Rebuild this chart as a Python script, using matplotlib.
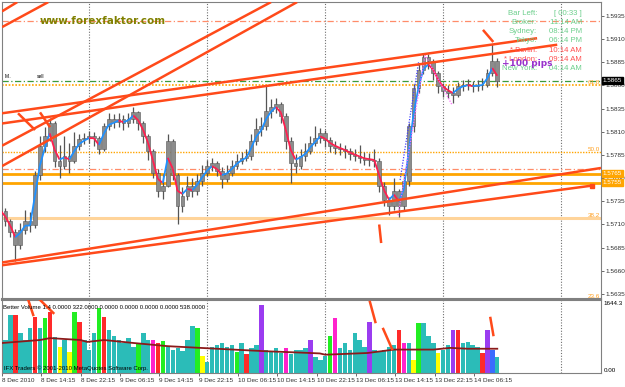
import numpy as np
import matplotlib
matplotlib.use('Agg')
import matplotlib.pyplot as plt
import matplotlib.transforms as mtransforms
from matplotlib.collections import LineCollection

plt.rcParams['font.family'] = ['Liberation Sans', 'DejaVu Sans']

# hourly bars, x = trading hours since 8 Dec 2010 00:00 (weekend skipped)
hours = np.arange(6, 108)
close = [1.5725, 1.5714, 1.5702, 1.5688, 1.5704, 1.5714, 1.5709, 1.5763, 1.5795, 1.5805,
         1.5819, 1.5779, 1.5773, 1.5784, 1.5779, 1.5795, 1.5802, 1.5803, 1.5805, 1.5803,
         1.5791, 1.5816, 1.5824, 1.5821, 1.5824, 1.5819, 1.5824, 1.5831, 1.5819, 1.5805,
         1.5789, 1.5766, 1.5746, 1.5752, 1.5800, 1.5763, 1.5730, 1.5741, 1.5752, 1.5746,
         1.5757, 1.5766, 1.5773, 1.5776, 1.5768, 1.5759, 1.5766, 1.5773, 1.5779, 1.5782,
         1.5784, 1.5800, 1.5813, 1.5816, 1.5832, 1.5837, 1.5840, 1.5827, 1.5800, 1.5776,
         1.5773, 1.5784, 1.5789, 1.5798, 1.5803, 1.5809, 1.5801, 1.5795, 1.5793, 1.5791,
         1.5789, 1.5786, 1.5784, 1.5782, 1.5780, 1.5780, 1.5779, 1.5752, 1.5736, 1.5730,
         1.5746, 1.5730, 1.5757, 1.5816, 1.5857, 1.5877, 1.5891, 1.5886, 1.5873, 1.5859,
         1.5854, 1.5852, 1.5850, 1.5859, 1.5861, 1.5861, 1.5859, 1.5860, 1.5861, 1.5873,
         1.5886, 1.5865]
high = [1.5730, 1.5728, 1.5716, 1.5705, 1.5712, 1.5726, 1.5724, 1.5768, 1.5805, 1.5815,
        1.5825, 1.5822, 1.5796, 1.5805, 1.5798, 1.5810, 1.5808, 1.5809, 1.5811, 1.5810,
        1.5806, 1.5820, 1.5830, 1.5829, 1.5830, 1.5828, 1.5830, 1.5837, 1.5833, 1.5822,
        1.5808, 1.5792, 1.5770, 1.5764, 1.5808, 1.5802, 1.5766, 1.5750, 1.5762, 1.5760,
        1.5765, 1.5774, 1.5780, 1.5782, 1.5779, 1.5772, 1.5774, 1.5780, 1.5786, 1.5788,
        1.5792, 1.5808, 1.5825, 1.5826, 1.5859, 1.5845, 1.5846, 1.5842, 1.5830, 1.5804,
        1.5786, 1.5792, 1.5798, 1.5806, 1.5816, 1.5814, 1.5812, 1.5804, 1.5800, 1.5798,
        1.5796, 1.5793, 1.5792, 1.5796, 1.5788, 1.5787, 1.5791, 1.5782, 1.5756, 1.5740,
        1.5760, 1.5748, 1.5765, 1.5820, 1.5862, 1.5884, 1.5895, 1.5894, 1.5889, 1.5876,
        1.5863, 1.5860, 1.5858, 1.5864, 1.5866, 1.5867, 1.5865, 1.5866, 1.5868, 1.5878,
        1.5905, 1.5890]
low = [1.5716, 1.5708, 1.5697, 1.5671, 1.5684, 1.5700, 1.5702, 1.5706, 1.5758, 1.5788,
       1.5800, 1.5772, 1.5760, 1.5770, 1.5766, 1.5776, 1.5790, 1.5797, 1.5798, 1.5795,
       1.5786, 1.5789, 1.5812, 1.5814, 1.5815, 1.5812, 1.5815, 1.5820, 1.5812, 1.5798,
       1.5780, 1.5760, 1.5740, 1.5738, 1.5750, 1.5758, 1.5711, 1.5724, 1.5736, 1.5740,
       1.5742, 1.5752, 1.5762, 1.5768, 1.5762, 1.5749, 1.5756, 1.5762, 1.5770, 1.5775,
       1.5778, 1.5780, 1.5796, 1.5805, 1.5812, 1.5825, 1.5830, 1.5820, 1.5792, 1.5755,
       1.5766, 1.5770, 1.5778, 1.5786, 1.5795, 1.5798, 1.5794, 1.5788, 1.5786, 1.5785,
       1.5782, 1.5780, 1.5778, 1.5776, 1.5774, 1.5773, 1.5772, 1.5745, 1.5730, 1.5720,
       1.5726, 1.5718, 1.5726, 1.5752, 1.5810, 1.5852, 1.5872, 1.5878, 1.5866, 1.5852,
       1.5848, 1.5846, 1.5841, 1.5848, 1.5854, 1.5855, 1.5853, 1.5854, 1.5855, 1.5858,
       1.5870, 1.5858]
first_open = 1.5722

volume = [850, 780, 1360, 1360, 940, 780, 1050, 1320, 1050, 1290,
          1430, 850, 600, 780, 500, 1430, 1200, 780, 540, 940,
          1530, 1320, 1000, 860, 780, 700, 820, 620, 700, 940,
          780, 780, 700, 750, 620, 550, 580, 520, 780, 1100,
          1060, 390, 270, 620, 660, 700, 620, 660, 500, 700,
          440, 580, 660, 1600, 550, 520, 580, 480, 580, 440,
          550, 550, 580, 780, 370, 310, 400, 860, 1290, 580,
          700, 550, 940, 780, 620, 1200, 550, 520, 550, 620,
          660, 1000, 700, 700, 300, 1170, 1170, 860, 700, 480,
          550, 660, 1000, 1000, 700, 740, 660, 620, 480, 1000,
          550, 380]
vol_codes = ("cccrcccrcg" "rcycygrccc" "grccccccgc" "cmrgcccccc" "gyccccccgc"
             "rccpccccmc" "cccpcccgmc" "cccccpcccc" "crmcygcccy" "ccprccccrp" "bc")
avg_hours = [6.3, 14, 16, 22.2, 23.6, 27, 33, 40, 46.6, 53.3, 60.2, 66.9, 70.9, 72, 80.6, 86, 94, 97.4, 101, 107]
avg_vals = [705, 775, 820, 775, 730, 775, 705, 630, 590, 550, 510, 480, 460, 430, 470, 550, 550, 590, 570, 570]

tick_hours = [6.25, 14.25, 22.25, 30.25, 38.25, 46.25, 54.25, 62.25, 70.25, 78.25, 86.25, 94.25, 102.25]
tick_labels = ["8 Dec 2010", "8 Dec 14:15", "8 Dec 22:15", "9 Dec 06:15", "9 Dec 14:15",
               "9 Dec 22:15", "10 Dec 06:15", "10 Dec 14:15", "10 Dec 22:15", "13 Dec 06:15",
               "13 Dec 14:15", "13 Dec 22:15", "14 Dec 06:15"]
day_breaks = [24, 48, 72, 96, 120]

fib_levels = ['23.6', '38.2', '50.0', '61.8']
fib_prices = [1.5629, 1.5717, 1.5788, 1.5860]
sr_prices = [1.5765, 1.5755]
dashdot_prices = [1.5930, 1.5770]

# trend lines: (hour, price) pairs
trend_lines = [[(6.3, 1.5830), (115.1, 1.5911)],
               [(6.3, 1.5819), (119.2, 1.5904)],
               [(6.3, 1.5795), (61.0, 1.5950)],
               [(6.3, 1.5773), (66.3, 1.5950)],
               [(6.3, 1.5923), (15.7, 1.5950)],
               [(6.3, 1.5940), (9.4, 1.5950)],
               [(6.3, 1.5669), (128.1, 1.5771)],
               [(6.3, 1.5666), (126.3, 1.5752)],
               [(9.56, 1.5830), (13.02, 1.5812)],
               [(14.03, 1.5831), (16.07, 1.5815)],
               [(104.1, 1.5920), (106.2, 1.5907)],
               [(83.0, 1.5710), (83.4, 1.5690)]]
vol_marks = [[(11.6, 1715), (12.6, 1363)],
             [(14.0, 1715), (16.7, 1410)],
             [(81.1, 1668), (82.2, 1198)],
             [(83.8, 1034), (85.6, 564)],
             [(105.6, 1292), (106.2, 893)]]
zigzag_h = [86.85, 92.33, 97.82]
zigzag_p = [1.5720, 1.5893, 1.5839]
zigzag2_h = [87.25, 91.0]
zigzag2_p = [1.5758, 1.5885]

info_left = ["Bar Left:", "Broker:", "Sydney:", "Tokyo:", "* Berlin:", "* London:", "New York:"]
info_right = ["[ 00:33 ]", "11:14 AM", "08:14 PM", "06:14 PM", "10:14 AM", "09:14 AM", "04:14 AM"]
info_hot = [False, False, False, False, True, True, False]

code_colors = {'c': '#2bbcb8', 'g': '#22ee22', 'r': '#ff2a2a', 'm': '#ff22cc',
               'p': '#9b3cf0', 'y': '#ffff00', 'b': '#3a6cff'}

fig = plt.figure(figsize=(6.25, 3.87), dpi=100)
fig.patch.set_facecolor('white')
ax = fig.add_axes([2 / 625, 1 - 299 / 387, 599 / 625, 297 / 387])
axv = fig.add_axes([2 / 625, 1 - 373 / 387, 599 / 625, 73 / 387])

xmin, xmax = 6.3, 128.1
ax.set_xlim(xmin, xmax)
ax.set_ylim(1.56296, 1.59501)
axv.set_xlim(xmin, xmax)
axv.set_ylim(0, 1715)

for a in (ax, axv):
    for s in a.spines.values():
        s.set_color('#808080')
        s.set_linewidth(0.8)
    for d in day_breaks:
        a.axvline(d, color='#707070', lw=0.8, ls=(0, (1, 1.5)), zorder=1)
ax.spines['bottom'].set_linewidth(1.5)
axv.spines['top'].set_linewidth(1.5)

# horizontal levels
yb = mtransforms.blended_transform_factory(ax.transAxes, ax.transData)
fib_styles = {'23.6': ('#ff9f00', 1.0, (0, (1, 1))), '38.2': ('#ffd49a', 2.2, '-'),
              '50.0': ('#ffa500', 1.0, (0, (1, 1))), '61.8': ('#ffa500', 1.2, (0, (1, 1)))}
for lev, pr in zip(fib_levels, fib_prices):
    col, lw, ls = fib_styles[lev]
    ax.axhline(pr, color=col, lw=lw, ls=ls, zorder=2)
    ax.text(0.998, pr + 0.00005, lev, transform=yb, ha='right', va='bottom',
            fontsize=4.5, color='#ffa020', zorder=6)
for pr in dashdot_prices:
    ax.axhline(pr, color='#ff8c69', lw=0.9, ls=(0, (5, 2, 1, 2)), zorder=2)
for pr in sr_prices:
    ax.axhline(pr, color='#ffa500', lw=2.0, zorder=2)
    ax.text(1.003, pr, f'{pr:.4f}', transform=yb, ha='left', va='center', fontsize=4.5,
            color='white', clip_on=False, zorder=7,
            bbox=dict(boxstyle='square,pad=0.15', fc='#ffa500', ec='#ffa500'))
ax.axhline(close[-1], color='#3c9a3c', lw=0.9, ls=(0, (5, 2, 1, 2)), zorder=2)
ax.text(1.003, close[-1], f'{close[-1]:.4f}', transform=yb, ha='left', va='center',
        fontsize=4.5, color='white', clip_on=False, zorder=7,
        bbox=dict(boxstyle='square,pad=0.15', fc='black', ec='black'))

# candles
opens = [first_open] + close[:-1]
ax.vlines(hours, low, high, color='#555555', lw=0.9, zorder=3)
for h, o, c in zip(hours, opens, close):
    ax.add_patch(plt.Rectangle((h - 0.38, min(o, c)), 0.76, max(abs(c - o), 0.00008),
                               fc='#8c8c8c', ec='#555555', lw=0.4, zorder=3))

# smoothed colour-changing average
ma = [close[0]]
for c in close[1:]:
    ma.append(ma[-1] + 0.6 * (c - ma[-1]))
pts = np.column_stack([hours, ma])
segs = np.stack([pts[:-1], pts[1:]], axis=1)
cols = ['#1e90ff' if ma[i + 1] >= ma[i] else '#ff1f4f' for i in range(len(ma) - 1)]
ax.add_collection(LineCollection(segs, colors=cols, linewidths=1.3, zorder=4))

ax.plot(zigzag_h, zigzag_p, color='#ff66ff', lw=0.9, ls=(0, (1, 1.2)), zorder=4)
ax.plot(zigzag2_h, zigzag2_p, color='#4040ff', lw=0.9, ls=(0, (1, 1.2)), zorder=4)

for ln in trend_lines:
    (h0, p0), (h1, p1) = ln
    ax.plot([h0, h1], [p0, p1], color='#ff4a1a', lw=1.8, solid_capstyle='butt', zorder=5)
ax.plot([trend_lines[7][1][0]], [trend_lines[7][1][1]], marker='s', ms=3, color='#ff4a1a', zorder=5)

# price axis
ax.yaxis.tick_right()
ax.set_yticks(np.arange(1.5635, 1.5936, 0.0025))
ax.set_yticklabels([f'{v:.4f}' for v in np.arange(1.5635, 1.5936, 0.0025)])
ax.tick_params(axis='y', length=2, width=0.5, labelsize=4.6, pad=1.5, colors='#303030')
ax.tick_params(axis='x', bottom=False, labelbottom=False)

# texts
ax.text(0.168, 0.935, 'www.forexfaktor.com', transform=ax.transAxes, ha='center', va='center',
        fontsize=7.5, fontweight='bold', color='#808000', family='DejaVu Sans', zorder=8)
row_y = [0.962, 0.931, 0.900, 0.869, 0.838, 0.807, 0.776]
for ty, l, r, hot in zip(row_y, info_left, info_right, info_hot):
    col = '#ff5050' if hot else '#6ccf8c'
    ax.text(0.893, ty, l, transform=ax.transAxes, ha='right', va='center', fontsize=5.6, color=col, zorder=8)
    ax.text(0.968, ty, r, transform=ax.transAxes, ha='right', va='center', fontsize=5.6, color=col, zorder=8)
ax.text(0.835, 0.793, '+100 pips', transform=ax.transAxes, ha='left', va='center',
        fontsize=6.5, fontweight='bold', color='#9932cc', family='DejaVu Sans', zorder=9)
ax.text(0.005, 0.748, 'M..', transform=ax.transAxes, fontsize=3.5, color='black', va='center')
ax.text(0.058, 0.748, 'sell', transform=ax.transAxes, fontsize=3.5, color='black', va='center')

# volume panel
bar_cols = [code_colors[k] for k in vol_codes]
axv.bar(hours, volume, width=0.9, color=bar_cols, zorder=2)
axv.plot(avg_hours, avg_vals, color='#8b1a1a', lw=1.3, zorder=3)
for ln in vol_marks:
    (h0, v0), (h1, v1) = ln
    axv.plot([h0, h1], [v0, v1], color='#ff4a1a', lw=1.8, zorder=4)
axv.set_yticks([])
axv.set_xticks(tick_hours)
axv.set_xticklabels(tick_labels, ha='left')
axv.tick_params(axis='x', length=2, width=0.5, labelsize=4.6, pad=1.5, colors='#303030')
vb = mtransforms.blended_transform_factory(axv.transAxes, axv.transData)
axv.text(1.004, 1644.3, '1644.3', transform=vb, ha='left', va='center', fontsize=4.5, clip_on=False)
axv.text(1.004, 60, '0.00', transform=vb, ha='left', va='center', fontsize=4.5, clip_on=False)
axv.text(0.002, 0.9, 'Better Volume 1.4 0.0000 322.0000 0.0000 0.0000 0.0000 0.0000 538.0000',
         transform=axv.transAxes, ha='left', va='center', fontsize=4.3, color='black', zorder=6)
axv.text(0.004, 0.06, 'IFX Traders \u00a9 2001-2010 MetaQuotes Software Corp.',
         transform=axv.transAxes, ha='left', va='center', fontsize=4.3, color='black', zorder=6)

fig.savefig('out.png', dpi=100, facecolor='white')
